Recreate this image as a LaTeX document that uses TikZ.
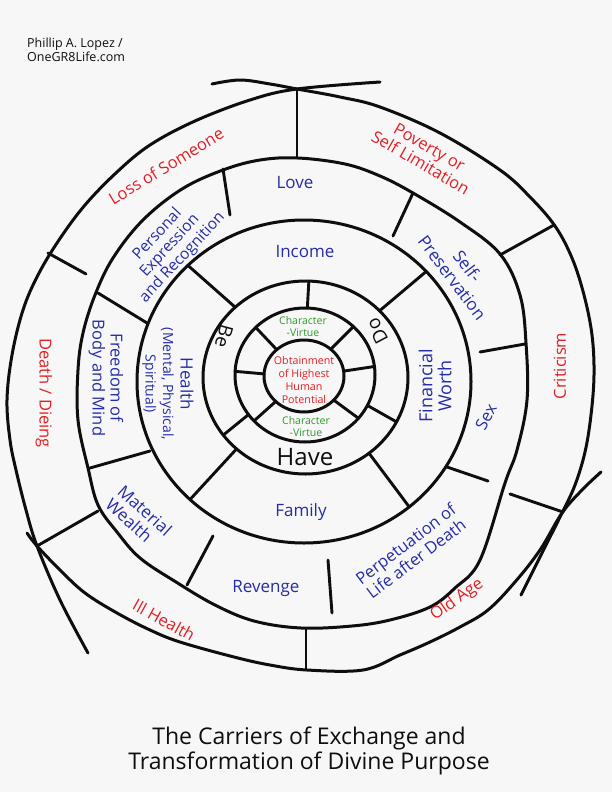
\documentclass[tikz,border=0pt]{standalone}
\usepackage{fontspec}
\setmainfont{Open Sans}
\usetikzlibrary{shapes.geometric,calc}
\definecolor{bg}{RGB}{247,247,247}
\definecolor{hred}{RGB}{228,30,36}
\definecolor{hblue}{RGB}{38,44,168}
\definecolor{hgreen}{RGB}{50,150,45}
\definecolor{ink}{RGB}{14,14,14}
\begin{document}
\begin{tikzpicture}[x=1pt,y=-1pt,
  ring/.style={draw=ink, line width=3pt, ellipse, inner sep=0pt, outer sep=0pt},
  ln/.style={draw=ink, line width=2.9pt, line cap=round, line join=round},
  lbl/.style={inner sep=0pt, align=center, font=\fontsize{16.5}{18}\selectfont},
  redlbl/.style={lbl, text=hred},
  bluelbl/.style={lbl, text=hblue},
  greenlbl/.style={lbl, text=hgreen, font=\fontsize{10.5}{12}\selectfont},
  blacklbl/.style={lbl, text=ink}]
\fill[bg] (0,0) rectangle (612,792);
\useasboundingbox (0,0) rectangle (612,792);

% inner rings
\node[ring, minimum width=80pt, minimum height=72pt] (r1) at (304,376) {};
\node[ring, minimum width=140pt, minimum height=134pt] (r2) at (305,375) {};
\node[ring, minimum width=205pt, minimum height=193pt] (r3) at (305.5,377.5) {};
\node[ring, minimum width=334pt, minimum height=323pt] (r4) at (304,381.5) {};

\foreach \a in {136,45,177,7,222,321} \draw[ln] (r1.\a) -- (r2.\a);
\foreach \a in {88,215,334} \draw[ln] (r2.\a) -- (r3.\a);
\foreach \a in {135,42,226,310} \draw[ln] (r3.\a) -- (r4.\a);

% ring 5
\draw[ln, line width=3pt] plot[smooth cycle, tension=0.6] coordinates {(298,158) (345,164) (380,176) (413,193) (460,222) (500,254) (520,295) (526,343) (527,400) (517,450) (505,483) (480,560) (455,588) (430,607) (390,620) (352,626) (301,628) (254,621) (215,605) (176,582) (140,558) (117,532) (98,505) (88,468) (78,420) (78,370) (83,333) (95,295) (113,258) (143,220) (182,189) (223,170) (260,160)};

% outer ring: three crossing arcs
\draw[ln, line width=3pt] plot[smooth, tension=0.6] coordinates {(380,82) (297,89) (250,100) (195,121) (150,145) (117,172) (85,205) (59,240) (38,275) (23,310) (12,355) (7,400) (10,440) (16,470) (26,510) (37,546) (60,600) (88,653)};
\draw[ln, line width=3pt] plot[smooth, tension=0.6] coordinates {(212,84) (240,80) (270,84) (297,89) (340,97) (380,107) (440,133) (500,170) (530,197) (555,226) (572,258) (584,295) (592,335) (594,375) (591,415) (585,452) (575,485) (562,513) (541,555) (521,595)};
\draw[ln, line width=3pt] plot[smooth, tension=0.6] coordinates {(27,533) (37,546) (60,570) (85,593) (117,613) (150,630) (180,642) (234,657) (270,665) (307,670) (363,670) (400,655) (430,642) (460,627) (488,610) (515,582) (540,550) (562,513) (582,490) (601,472)};

% band 5 dividers
\coordinate (d5a1) at (223,169); \coordinate (d5a2) at (230,215);
\coordinate (d5b1) at (98,293);  \coordinate (d5b2) at (147,323);
\coordinate (d5c1) at (90,468);  \coordinate (d5c2) at (150,451);
\coordinate (d5d1) at (187,585); \coordinate (d5d2) at (213,536);
\coordinate (d5e1) at (328,560); \coordinate (d5e2) at (332,613);
\coordinate (d5f1) at (447,467); \coordinate (d5f2) at (488,481);
\coordinate (d5g1) at (480,352); \coordinate (d5g2) at (525,344);
\coordinate (d5h1) at (393,236); \coordinate (d5h2) at (413,193);
\foreach \s in {a,b,c,d,e,f,g,h} \draw[ln] (d5\s1) -- (d5\s2);

% band 6 dividers
\coordinate (d6a1) at (297,89);  \coordinate (d6a2) at (297,158);
\coordinate (d6b1) at (48,253);  \coordinate (d6b2) at (86,274);
\coordinate (d6c1) at (37,546);  \coordinate (d6c2) at (98,511);
\coordinate (d6d1) at (306,629); \coordinate (d6d2) at (306,670);
\coordinate (d6e1) at (510,494); \coordinate (d6e2) at (563,512);
\coordinate (d6f1) at (500,255); \coordinate (d6f2) at (554,225);
\foreach \s in {a,b,c,d,e,f} \draw[ln] (d6\s1) -- (d6\s2);

% labels
\node[blacklbl, anchor=north west, align=left, font=\fontsize{12.5}{14}\selectfont] (author) at (27,38) {Phillip A. Lopez /\\OneGR8Life.com};
\node[blacklbl, font=\fontsize{23}{25.5}\selectfont] (title) at (309,751) {The Carriers of Exchange and\\Transformation of Divine Purpose};

\node[lbl, text=hred, font=\fontsize{10.7}{12.7}\selectfont] (core) at (304,380) {Obtainment\\of Highest\\Human\\Potential};
\node[greenlbl] (cv1) at (303,327) {Character\\-Virtue};
\node[greenlbl] (cv2) at (306,427) {Character\\-Virtue};

\node[blacklbl, font=\fontsize{24}{26}\selectfont] (have) at (305,457) {Have};
\node[blacklbl, font=\fontsize{19}{20}\selectfont, rotate=-105] (be) at (224,336) {Be};
\node[blacklbl, font=\fontsize{19}{20}\selectfont, rotate=118] (do) at (377,331) {Do};

\node[bluelbl, font=\fontsize{17}{18}\selectfont] (income) at (305,252) {Income};
\node[bluelbl, font=\fontsize{17}{18}\selectfont] (family) at (301,512) {Family};
\node[bluelbl, rotate=-90, font=\fontsize{14}{17.5}\selectfont] (health) at (168,384) {{\fontsize{17}{18}\selectfont Health}\\(Mental, Physical,\\Spiritual)};
\node[bluelbl, rotate=90, font=\fontsize{18}{19}\selectfont] (fin) at (435,386) {Financial\\Worth};

\node[bluelbl, font=\fontsize{17}{18}\selectfont] (love) at (295,183) {Love};
\node[bluelbl, font=\fontsize{17}{18}\selectfont] (revenge) at (266,588) {Revenge};
\node[bluelbl, rotate=-90] (freedom) at (106,378) {Freedom of\\Body and Mind};
\node[bluelbl, rotate=62] (sex) at (486,417) {Sex};
\node[bluelbl, rotate=-53, font=\fontsize{17}{19}\selectfont] (selfp) at (460,272) {Self-\\Preservation};
\node[bluelbl, rotate=47, font=\fontsize{15.5}{17}\selectfont] (personal) at (170,246) {Personal\\Expression\\and Recognition};
\node[bluelbl, rotate=-42, align=left, font=\fontsize{17}{18}\selectfont] (material) at (139,517) {Material\\Wealth};
\node[bluelbl, rotate=37, align=left] (perp) at (411,551) {Perpetuation of\\Life after Death};

\node[redlbl, rotate=31.5] (loss) at (166,166) {Loss of Someone};
\node[redlbl, rotate=-30] (poverty) at (425,155) {Poverty or\\Self Limitation};
\node[redlbl, rotate=90] (crit) at (560,366) {Criticism};
\node[redlbl, rotate=-90] (death) at (44,393) {Death / Dieing};
\node[redlbl, rotate=35] (old) at (457,600) {Old Age};
\node[redlbl, rotate=-29] (ill) at (164,620) {Ill Health};
\end{tikzpicture}
\end{document}
